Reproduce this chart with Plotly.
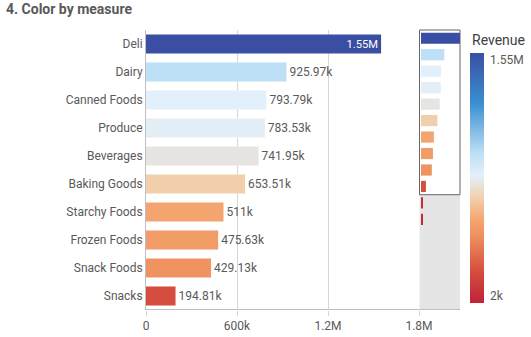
import plotly.graph_objects as go

# ---- data ----
categories = ["Deli", "Dairy", "Canned Foods", "Produce", "Beverages", "Baking Goods",
              "Starchy Foods", "Frozen Foods", "Snack Foods", "Snacks",
              "Breakfast Foods", "Canned Products"]
revenue = [1550000, 925970, 793790, 783530, 741950, 653510,
           511000, 475630, 429130, 194810,
           55000, 42000]
visible_count = 10
scroll_rows = 17
x_tickvals = [0, 600000, 1200000, 1800000]
x_ticktext = ["0", "600k", "1.2M", "1.8M"]
legend_title = "Revenue"
color_min, color_max = 2000, 1550000
color_labels = ["2k", "1.55M"]
title_text = "4. Color by measure"

W, H = 531, 337
FONT = "Roboto"
GRAY = "#595959"


def fmt(v):
    if v >= 1e6:
        s = f"{v/1e6:.2f}".rstrip("0").rstrip(".")
        return s + "M"
    s = f"{v/1e3:.2f}".rstrip("0").rstrip(".")
    return s + "k"


vis_cats = categories[:visible_count]
vis_vals = revenue[:visible_count]
labels = [fmt(v) for v in vis_vals]
positions = ["inside" if i == 0 else "outside" for i in range(visible_count)]
text_colors = ["white" if i == 0 else GRAY for i in range(visible_count)]

colorscale = [
    [0.0, "#C0213B"],
    [0.12, "#D44B3E"],
    [0.27, "#EE915F"],
    [0.33, "#F4A46E"],
    [0.42, "#F2CFAB"],
    [0.48, "#E6E6E3"],
    [0.51, "#E2F0FA"],
    [0.60, "#BCDFF6"],
    [0.80, "#3A8FD0"],
    [1.0, "#3A4FA3"],
]

fig = go.Figure()
fig.add_trace(go.Bar(
    y=vis_cats, x=vis_vals, orientation="h",
    marker=dict(color=vis_vals, coloraxis="coloraxis", line=dict(width=0)),
    text=labels, textposition=positions, insidetextanchor="end",
    textfont=dict(color=text_colors, size=12, family=FONT),
    cliponaxis=False, xaxis="x", yaxis="y", showlegend=False,
))
fig.add_trace(go.Bar(
    y=categories, x=revenue, orientation="h",
    marker=dict(color=revenue, coloraxis="coloraxis", line=dict(width=0)),
    xaxis="x2", yaxis="y2", showlegend=False,
))


def px_x(p):
    return p / W


def px_y(p):
    return 1 - p / H


bar_len_px = 250
inset = 7 / bar_len_px * (color_max - color_min)
cb_tickvals = [color_min + inset, color_max - inset]

fig.update_layout(
    width=W, height=H,
    margin=dict(l=0, r=0, t=0, b=0, autoexpand=False),
    paper_bgcolor="white", plot_bgcolor="rgba(0,0,0,0)",
    font=dict(family=FONT, size=12, color=GRAY),
    bargap=0.32,
    xaxis=dict(domain=[px_x(146), px_x(419)], range=[0, 1800000],
               tickvals=x_tickvals, ticktext=x_ticktext,
               showgrid=True, gridcolor="#D6D6D6", gridwidth=1,
               zeroline=False, showline=False,
               ticks="outside", ticklen=5, tickcolor="#D6D6D6",
               tickfont=dict(size=12, color=GRAY), anchor="y"),
    yaxis=dict(domain=[px_y(310), px_y(30)], autorange="reversed",
               showgrid=False, showline=True, linecolor="#BFBFBF",
               ticks="", tickfont=dict(size=12, color=GRAY),
               ticklabelstandoff=0, anchor="x"),
    xaxis2=dict(domain=[px_x(421), px_x(460)], range=[0, max(revenue) * 1.0],
                showgrid=False, showticklabels=False, zeroline=False,
                showline=False, ticks="", anchor="y2"),
    yaxis2=dict(domain=[px_y(310), px_y(30)],
                range=[scroll_rows - 0.5, -0.5],
                showgrid=False, showticklabels=False, showline=False,
                ticks="", anchor="x2"),
    coloraxis=dict(
        colorscale=colorscale, cmin=color_min, cmax=color_max,
        colorbar=dict(
            x=px_x(470), xanchor="left", xpad=0, ypad=0, thickness=14,
            lenmode="pixels", len=bar_len_px, y=px_y(178), yanchor="middle",
            outlinewidth=0, ticks="outside", ticklen=4,
            tickcolor="rgba(0,0,0,0)",
            tickvals=cb_tickvals, ticktext=color_labels,
            tickfont=dict(size=12, color=GRAY),
        ),
    ),
    shapes=[
        dict(type="rect", xref="paper", yref="y2 domain",
             x0=px_x(419.5), x1=px_x(460), y0=0, y1=1, fillcolor="#E5E5E5",
             line=dict(width=0), layer="below"),
        dict(type="rect", xref="paper", yref="y2 domain",
             x0=px_x(419.5), x1=px_x(460), y0=1 - visible_count / scroll_rows, y1=1,
             fillcolor="white", line=dict(width=1, color="#666666"),
             layer="below"),
        dict(type="line", xref="paper", yref="paper",
             x0=px_x(146), x1=px_x(460), y0=px_y(309.5), y1=px_y(309.5),
             line=dict(width=1, color="#BFBFBF")),
    ],
    annotations=[
        dict(text=f"<b>{title_text}</b>", x=px_x(4), y=px_y(9),
             xref="paper", yref="paper", xanchor="left", yanchor="middle",
             showarrow=False, font=dict(size=14, color=GRAY, family=FONT)),
        dict(text=legend_title, x=px_x(470), y=px_y(40),
             xref="paper", yref="paper", xanchor="left", yanchor="middle",
             showarrow=False, font=dict(size=14, color="#404040", family=FONT)),
    ],
)

fig.write_html("out.html")
